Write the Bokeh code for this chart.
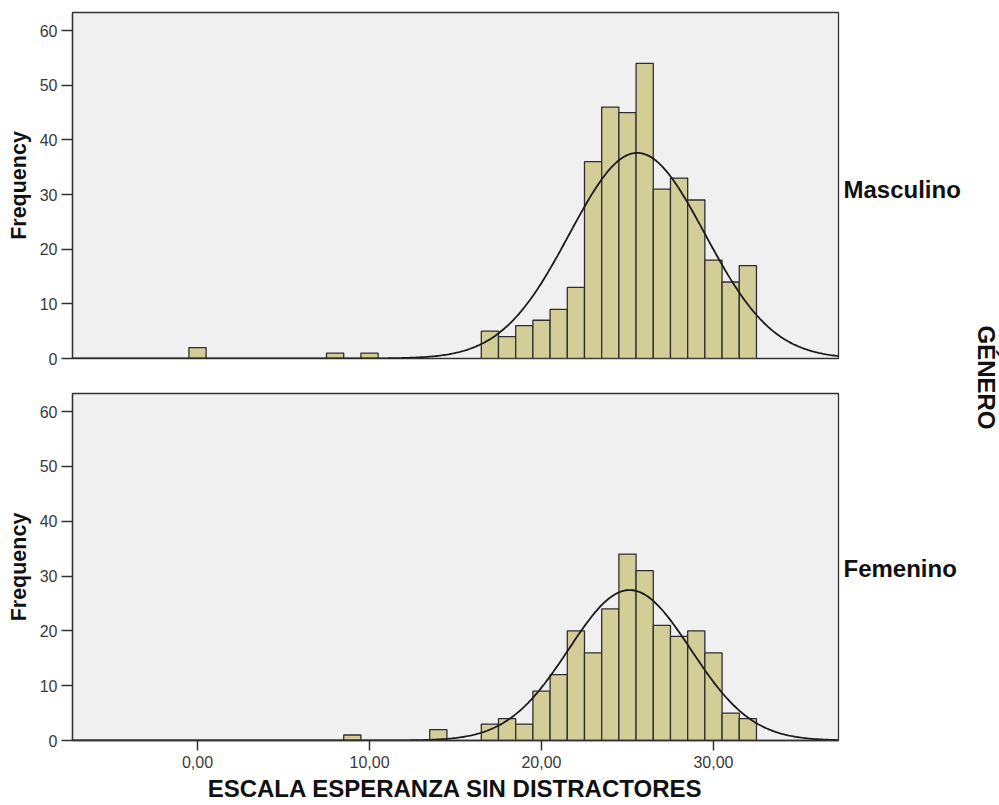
import numpy as np
from bokeh.plotting import figure
from bokeh.models import Range1d, FixedTicker, Label
from bokeh.layouts import row, column
from bokeh.embed import file_html
from bokeh.resources import INLINE

# ---- data ----
genders = ["Masculino", "Femenino"]
masc_x = [0, 8, 10, 17, 18, 19, 20, 21, 22, 23, 24, 25, 26, 27, 28, 29, 30, 31, 32]
masc_n = [2, 1, 1, 5, 4, 6, 7, 9, 13, 36, 46, 45, 54, 31, 33, 29, 18, 14, 17]
fem_x = [9, 14, 17, 18, 19, 20, 21, 22, 23, 24, 25, 26, 27, 28, 29, 30, 31, 32]
fem_n = [1, 2, 3, 4, 3, 9, 12, 20, 16, 24, 34, 31, 21, 19, 20, 16, 5, 4]
bin_width = 1.0
x_ticks = [0, 10, 20, 30]
x_tick_labels = ["0,00", "10,00", "20,00", "30,00"]
y_ticks = [0, 10, 20, 30, 40, 50, 60]
x_title = "ESCALA ESPERANZA SIN DISTRACTORES"
y_title = "Frequency"
panel_title = "GÉNERO"

X_MIN, X_MAX = -7.27, 37.27
Y_MIN, Y_MAX = 0, 63.3

FONT = "Liberation Sans"
BAR_FILL = "#D3CE97"
BAR_LINE = "#2E2E2E"
BG = "#F0F0F0"

FRAME_W = 766
LEFT = 72
RIGHT = 5
W_MAIN = LEFT + FRAME_W + RIGHT
H1 = 373
H2 = 432
W_SIDE = 156


def panel(xs, ns, height, top, bottom, show_x):
    p = figure(width=W_MAIN, height=height, output_backend="svg", toolbar_location=None,
               x_range=Range1d(X_MIN, X_MAX), y_range=Range1d(Y_MIN, Y_MAX),
               min_border_left=LEFT, min_border_right=RIGHT,
               min_border_top=top, min_border_bottom=bottom)
    p.background_fill_color = BG
    p.border_fill_color = "white"
    p.outline_line_color = "#333333"
    p.outline_line_width = 1.3
    p.xgrid.visible = False
    p.ygrid.visible = False

    xs_a = np.array(xs, dtype=float)
    ns_a = np.array(ns, dtype=float)
    p.quad(left=xs_a - bin_width / 2, right=xs_a + bin_width / 2, bottom=0, top=ns_a,
           fill_color=BAR_FILL, line_color=BAR_LINE, line_width=1.3)

    # fitted normal curve from the binned data
    n_tot = ns_a.sum()
    mu = (xs_a * ns_a).sum() / n_tot
    sd = np.sqrt(((xs_a - mu) ** 2 * ns_a).sum() / (n_tot - 1))
    cx = np.linspace(X_MIN, X_MAX, 500)
    cy = n_tot * bin_width / (sd * np.sqrt(2 * np.pi)) * np.exp(-0.5 * ((cx - mu) / sd) ** 2)
    p.line(cx, cy, line_color="#1A1A1A", line_width=1.8)

    ya = p.yaxis[0]
    ya.ticker = FixedTicker(ticks=y_ticks)
    ya.minor_tick_line_color = None
    ya.major_tick_in = 0
    ya.major_tick_out = 11
    ya.major_tick_line_color = "#333333"
    ya.major_tick_line_width = 1.5
    ya.axis_line_color = "#333333"
    ya.axis_line_width = 1.3
    ya.major_label_text_font = FONT
    ya.major_label_text_font_size = "16px"
    ya.major_label_text_color = "#3A3A3A"
    ya.major_label_standoff = 4
    ya.axis_label = y_title
    ya.axis_label_text_font = FONT
    ya.axis_label_text_font_style = "bold"
    ya.axis_label_text_font_size = "21.5px"
    ya.axis_label_text_color = "#111111"
    ya.axis_label_standoff = 6

    xa = p.xaxis[0]
    if show_x:
        xa.ticker = FixedTicker(ticks=x_ticks)
        xa.major_label_overrides = {t: l for t, l in zip(x_ticks, x_tick_labels)}
        xa.minor_tick_line_color = None
        xa.major_tick_in = 0
        xa.major_tick_out = 10
        xa.major_tick_line_color = "#333333"
        xa.major_tick_line_width = 1.5
        xa.axis_line_color = "#333333"
        xa.axis_line_width = 1.3
        xa.major_label_text_font = FONT
        xa.major_label_text_font_size = "16px"
        xa.major_label_text_color = "#3A3A3A"
        xa.major_label_standoff = 5
        xa.axis_label = x_title
        xa.axis_label_text_font = FONT
        xa.axis_label_text_font_style = "bold"
        xa.axis_label_text_font_size = "24px"
        xa.axis_label_text_color = "#111111"
        xa.axis_label_standoff = 4
    else:
        xa.visible = False
    return p


p1 = panel(masc_x, masc_n, H1, 12, 15, False)
p2 = panel(fem_x, fem_n, H2, 20, 65, True)

H_TOT = H1 + H2
side = figure(width=W_SIDE, height=H_TOT, output_backend="svg", toolbar_location=None,
              x_range=Range1d(0, W_SIDE), y_range=Range1d(0, H_TOT),
              min_border=0, min_border_left=0, min_border_right=0,
              min_border_top=0, min_border_bottom=0)
side.axis.visible = False
side.grid.visible = False
side.outline_line_color = None
side.background_fill_color = "white"
side.border_fill_color = "white"

label_style = dict(text_font=FONT, text_font_style="bold", text_color="#111111")
# category labels sit beside the middle of each panel
side.add_layout(Label(x=0, y=H_TOT - 189, text=genders[0], text_font_size="24px",
                      text_align="left", text_baseline="middle", **label_style))
side.add_layout(Label(x=0, y=H_TOT - 568, text=genders[1], text_font_size="24px",
                      text_align="left", text_baseline="middle", **label_style))
side.add_layout(Label(x=143, y=H_TOT - 377, text=panel_title, angle=-np.pi / 2,
                      text_font_size="24px", text_align="center", text_baseline="middle",
                      **label_style))

layout = row(column(p1, p2), side)
open("out.html", "w").write(file_html(layout, INLINE))
